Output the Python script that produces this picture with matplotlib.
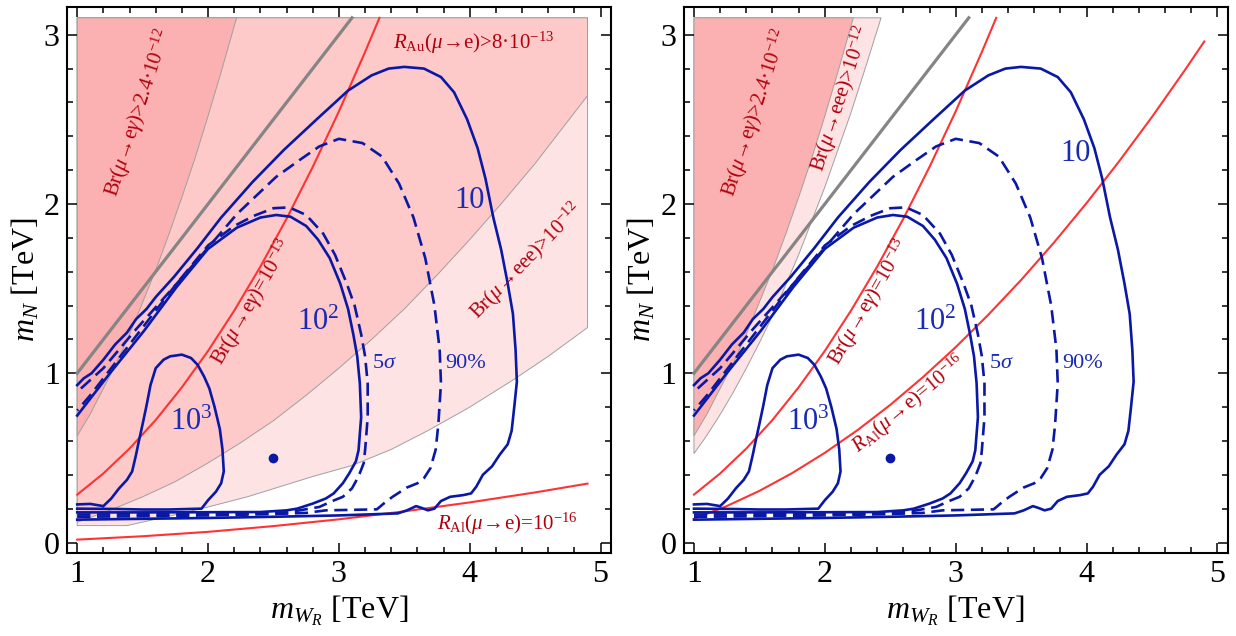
import matplotlib.pyplot as plt
from matplotlib.ticker import MultipleLocator

plt.rcParams['font.family'] = ['Liberation Serif', 'DejaVu Serif']
plt.rcParams['mathtext.fontset'] = 'custom'
plt.rcParams['mathtext.rm'] = 'Liberation Serif'
plt.rcParams['mathtext.it'] = 'Liberation Serif:italic'
plt.rcParams['mathtext.bf'] = 'Liberation Serif:bold'

# ---- excluded regions (boundaries) ----
# Br(mu->e gamma) > 2.4e-12  (both panels)
meg_lim_x = [1.0, 1.1, 1.2, 1.3, 1.4, 1.5, 1.6, 1.7, 1.8, 1.9, 2.0, 2.1, 2.218]
meg_lim_y = [0.63, 0.76, 0.91, 1.06, 1.23, 1.42, 1.61, 1.82, 2.04, 2.27, 2.52, 2.78, 3.10]
# Br(mu->eee) > 1e-12, left panel
meee_L_x = [1.38, 1.7, 2.0, 2.3, 2.55, 2.8, 3.1, 3.4, 3.69, 4.0, 4.33, 4.6, 4.9]
meee_L_y = [0.10, 0.155, 0.21, 0.27, 0.33, 0.39, 0.455, 0.55, 0.665, 0.80, 0.96, 1.10, 1.27]
# Br(mu->eee) > 1e-12, right panel
meee_R_x = [1.0, 1.1, 1.2, 1.3, 1.4, 1.5, 1.6, 1.7, 1.8, 1.9, 2.0, 2.1, 2.2, 2.3, 2.43]
meee_R_y = [0.525, 0.635, 0.756, 0.887, 1.03, 1.18, 1.34, 1.52, 1.70, 1.90, 2.10, 2.32, 2.54, 2.78, 3.10]
# R_Au(mu->e) > 8e-13, left panel
rau_x = [1.0, 1.25, 1.5, 1.75, 2.0, 2.25, 2.5, 2.75, 3.0, 3.25, 3.5, 3.75, 4.0, 4.25, 4.5, 4.75, 4.9]
rau_y = [0.12, 0.19, 0.27, 0.36, 0.47, 0.59, 0.72, 0.87, 1.03, 1.20, 1.38, 1.58, 1.79, 2.01, 2.24, 2.49, 2.64]

# ---- reference lines ----
diag_x = [1.0, 3.1]
diag_y = [1.0, 3.1]
meg13_x = [1.0, 1.2, 1.4, 1.6, 1.8, 2.0, 2.2, 2.4, 2.6, 2.8, 3.0, 3.2, 3.31]
meg13_y = [0.283, 0.408, 0.555, 0.724, 0.917, 1.132, 1.37, 1.63, 1.913, 2.219, 2.547, 2.898, 3.10]
ral_L_x = [1.0, 1.5, 2.0, 2.5, 3.0, 3.5, 4.0, 4.5, 4.9]
ral_L_y = [0.017, 0.037, 0.063, 0.097, 0.137, 0.184, 0.237, 0.296, 0.348]
ral_R_x = [1.0, 1.25, 1.5, 1.75, 2.0, 2.25, 2.5, 2.75, 3.0, 3.25, 3.5, 3.75, 4.0, 4.25, 4.5, 4.75, 4.9]
ral_R_y = [0.14, 0.215, 0.305, 0.41, 0.53, 0.664, 0.813, 0.977, 1.154, 1.346, 1.551, 1.771, 2.005, 2.253, 2.514, 2.789, 2.96]

# ---- significance contours ----
c10_x = [1.0, 1.5, 2.0, 2.5, 3.0, 3.45, 3.52, 3.59, 3.63, 3.68, 3.73, 3.78, 3.85, 3.95, 4.01, 4.05, 4.10,
         4.17, 4.23, 4.29, 4.32, 4.34, 4.36, 4.35, 4.33, 4.29, 4.24, 4.18, 4.12, 4.06, 3.98, 3.88, 3.78,
         3.65, 3.50, 3.38, 3.25, 3.07, 2.83, 2.58, 2.34, 2.10, 1.92, 1.74, 1.60, 1.53, 1.45, 1.38, 1.29,
         1.20, 1.11, 1.05, 1.0]
c10_y = [0.135, 0.14, 0.145, 0.152, 0.16, 0.172, 0.19, 0.215, 0.205, 0.19, 0.20, 0.245, 0.27, 0.28, 0.29,
         0.33, 0.40, 0.45, 0.52, 0.58, 0.66, 0.80, 0.95, 1.14, 1.35, 1.53, 1.73, 1.92, 2.15, 2.33, 2.50,
         2.66, 2.75, 2.80, 2.81, 2.80, 2.76, 2.67, 2.50, 2.32, 2.13, 1.92, 1.74, 1.57, 1.45, 1.38, 1.32,
         1.24, 1.17, 1.08, 1.00, 0.97, 0.93]
c90_x = [1.0, 1.5, 2.0, 2.5, 2.75, 2.9, 3.1, 3.29, 3.35, 3.41, 3.52, 3.60, 3.65, 3.70, 3.74, 3.76, 3.78,
         3.77, 3.73, 3.66, 3.57, 3.46, 3.33, 3.18, 3.00, 2.85, 2.70, 2.52, 2.22, 1.92, 1.75, 1.60, 1.45,
         1.32, 1.20, 1.10, 1.0]
c90_y = [0.152, 0.155, 0.16, 0.168, 0.175, 0.19, 0.193, 0.196, 0.235, 0.27, 0.325, 0.35, 0.38, 0.44, 0.55,
         0.70, 0.94, 1.14, 1.40, 1.68, 1.92, 2.12, 2.28, 2.36, 2.385, 2.34, 2.26, 2.16, 1.94, 1.67, 1.52,
         1.39, 1.26, 1.14, 1.03, 0.96, 0.89]
c5s_x = [1.0, 1.5, 2.0, 2.5, 2.62, 2.70, 2.85, 2.95, 3.03, 3.10, 3.15, 3.19, 3.20, 3.22, 3.22, 3.20, 3.17,
         3.12, 3.06, 2.97, 2.88, 2.75, 2.62, 2.50, 2.35, 2.20, 2.00, 1.76, 1.51, 1.25, 1.10, 1.0]
c5s_y = [0.165, 0.167, 0.169, 0.173, 0.18, 0.19, 0.21, 0.245, 0.27, 0.32, 0.39, 0.47, 0.545, 0.74, 0.94,
         1.10, 1.23, 1.40, 1.53, 1.70, 1.825, 1.935, 1.98, 1.975, 1.93, 1.87, 1.755, 1.53, 1.28, 1.02,
         0.87, 0.78]
c100_x = [1.0, 1.5, 2.0, 2.4, 2.6, 2.68, 2.80, 2.90, 2.96, 3.03, 3.08, 3.13, 3.15, 3.17, 3.16, 3.14, 3.11,
          3.07, 3.01, 2.93, 2.84, 2.75, 2.63, 2.52, 2.40, 2.22, 2.00, 1.76, 1.51, 1.25, 1.10, 1.0]
c100_y = [0.178, 0.178, 0.179, 0.18, 0.19, 0.20, 0.23, 0.26, 0.29, 0.35, 0.41, 0.48, 0.545, 0.74, 0.94,
          1.10, 1.23, 1.38, 1.53, 1.68, 1.79, 1.87, 1.925, 1.935, 1.92, 1.86, 1.735, 1.51, 1.25, 1.00,
          0.85, 0.75]
c1000_x = [1.0, 1.1, 1.2, 1.26, 1.32, 1.38, 1.42, 1.45, 1.47, 1.50, 1.53, 1.56, 1.60, 1.66, 1.71, 1.80,
           1.87, 1.92, 1.97, 2.01, 2.05, 2.09, 2.11, 2.12, 2.10, 2.06, 2.00, 1.95, 1.70, 1.50, 1.30, 1.0]
c1000_y = [0.225, 0.228, 0.215, 0.26, 0.32, 0.37, 0.42, 0.52, 0.595, 0.70, 0.81, 0.93, 1.03, 1.08, 1.10,
           1.11, 1.09, 1.05, 0.98, 0.91, 0.80, 0.67, 0.55, 0.42, 0.35, 0.30, 0.25, 0.20, 0.195, 0.195,
           0.198, 0.2]
bench_x = [2.5]
bench_y = [0.5]

BLUE = '#0a18a6'
BLUE_TXT = '#1a2ab4'
RED = '#ff3333'
RED_TXT = '#b0000c'
GRAY_EDGE = '#a0a0a0'
C_DARK = '#fbb1b1'
C_MED = '#fdc9c9'
C_LIGHT = '#fde3e3'

ARROW = r'$\!\rightarrow\!$'

fig = plt.figure(figsize=(12.36, 6.36), dpi=100)
axL = fig.add_axes([0.054, 0.1305, 0.4404, 0.858])
axR = fig.add_axes([0.553, 0.1305, 0.4404, 0.858])

# left panel regions
axL.fill([1.0] + meee_L_x + [4.9, 1.0], [0.1] + meee_L_y + [3.1, 3.1],
         facecolor=C_LIGHT, edgecolor=GRAY_EDGE, lw=0.7, zorder=1)
axL.fill(rau_x + [4.9, 1.0], rau_y + [3.1, 3.1],
         facecolor=C_MED, edgecolor=GRAY_EDGE, lw=0.7, zorder=1)
axL.fill(meg_lim_x + [1.0], meg_lim_y + [3.1],
         facecolor=C_DARK, edgecolor=GRAY_EDGE, lw=0.7, zorder=1)

# right panel regions
axR.fill(meee_R_x + [1.0], meee_R_y + [3.1],
         facecolor=C_LIGHT, edgecolor=GRAY_EDGE, lw=0.7, zorder=1)
axR.fill(meg_lim_x + [1.0], meg_lim_y + [3.1],
         facecolor=C_DARK, edgecolor=GRAY_EDGE, lw=0.7, zorder=1)

for ax in (axL, axR):
    ax.plot(diag_x, diag_y, color='#858585', lw=2.3, zorder=2)
    ax.plot(meg13_x, meg13_y, color=RED, lw=1.5, zorder=3)
    ax.plot(c10_x, c10_y, color=BLUE, lw=1.9, zorder=4)
    ax.plot(c90_x, c90_y, color=BLUE, lw=1.9, dashes=(5, 2.5), zorder=4)
    ax.plot(c5s_x, c5s_y, color=BLUE, lw=1.9, dashes=(5, 2.5), zorder=4)
    ax.plot(c100_x, c100_y, color=BLUE, lw=1.9, zorder=4)
    ax.plot(c1000_x, c1000_y, color=BLUE, lw=1.9, zorder=4)
    ax.plot(bench_x, bench_y, 'o', color=BLUE, ms=6, zorder=5)

    ax.text(2.84, 1.30, r'10$^2$', color=BLUE_TXT, fontsize=22, ha='center', va='center', zorder=6)
    ax.text(1.87, 0.71, r'10$^3$', color=BLUE_TXT, fontsize=22, ha='center', va='center', zorder=6)
    ax.text(3.35, 1.06, r'5$\sigma$', color=BLUE_TXT, fontsize=16, ha='center', va='center', zorder=6)
    ax.text(3.97, 1.06, '90%', color=BLUE_TXT, fontsize=16, ha='center', va='center', zorder=6)
    ax.text(1.47, 2.54, r'Br($\mu$' + ARROW + r'e$\gamma$)>2.4·10$^{-12}$', color=RED_TXT, fontsize=15,
            rotation=72, ha='center', va='center', rotation_mode='anchor', zorder=6)
    ax.text(2.34, 1.42, r'Br($\mu$' + ARROW + r'e$\gamma$)=10$^{-13}$', color=RED_TXT, fontsize=15,
            rotation=60, ha='center', va='center', rotation_mode='anchor', zorder=6)

    ax.set_xlim(0.92, 5.08)
    ax.set_ylim(-0.062, 3.162)
    ax.set_xticks([1, 2, 3, 4, 5])
    ax.set_yticks([0, 1, 2, 3])
    ax.xaxis.set_minor_locator(MultipleLocator(0.2))
    ax.yaxis.set_minor_locator(MultipleLocator(0.2))
    ax.tick_params(which='both', direction='in', top=True, right=True, width=1.1)
    ax.tick_params(which='major', length=7, labelsize=23, pad=5)
    ax.tick_params(which='minor', length=4)
    for sp in ax.spines.values():
        sp.set_linewidth(1.5)
    ax.set_xlabel(r'$m_{W_R}$ [TeV]', fontsize=23, labelpad=3)
    ax.set_ylabel(r'$m_N$ [TeV]', fontsize=23, labelpad=2)

# left panel only
axL.plot(ral_L_x, ral_L_y, color=RED, lw=1.5, zorder=3)
axL.text(4.0, 2.02, '10', color=BLUE_TXT, fontsize=22, ha='center', va='center', zorder=6)
axL.text(4.03, 2.95, r'$R_{\mathrm{Au}}$($\mu$' + ARROW + r'e)>8·10$^{-13}$', color=RED_TXT, fontsize=15,
         ha='center', va='center', zorder=6)
axL.text(4.43, 1.66, r'Br($\mu$' + ARROW + r'eee)>10$^{-12}$', color=RED_TXT, fontsize=15,
         rotation=46, ha='center', va='center', rotation_mode='anchor', zorder=6)
axL.text(4.29, 0.11, r'$R_{\mathrm{Al}}$($\mu$' + ARROW + r'e)=10$^{-16}$', color=RED_TXT, fontsize=15,
         ha='center', va='center', zorder=6)

# right panel only
axR.plot(ral_R_x, ral_R_y, color=RED, lw=1.5, zorder=3)
axR.text(3.92, 2.30, '10', color=BLUE_TXT, fontsize=22, ha='center', va='center', zorder=6)
axR.text(2.125, 2.62, r'Br($\mu$' + ARROW + r'eee)>10$^{-12}$', color=RED_TXT, fontsize=15,
         rotation=72, ha='center', va='center', rotation_mode='anchor', zorder=6)
axR.text(2.645, 0.82, r'$R_{\mathrm{Al}}$($\mu$' + ARROW + r'e)=10$^{-16}$', color=RED_TXT, fontsize=15,
         rotation=39.5, ha='center', va='center', rotation_mode='anchor', zorder=6)

fig.savefig('out.png', dpi=100)
